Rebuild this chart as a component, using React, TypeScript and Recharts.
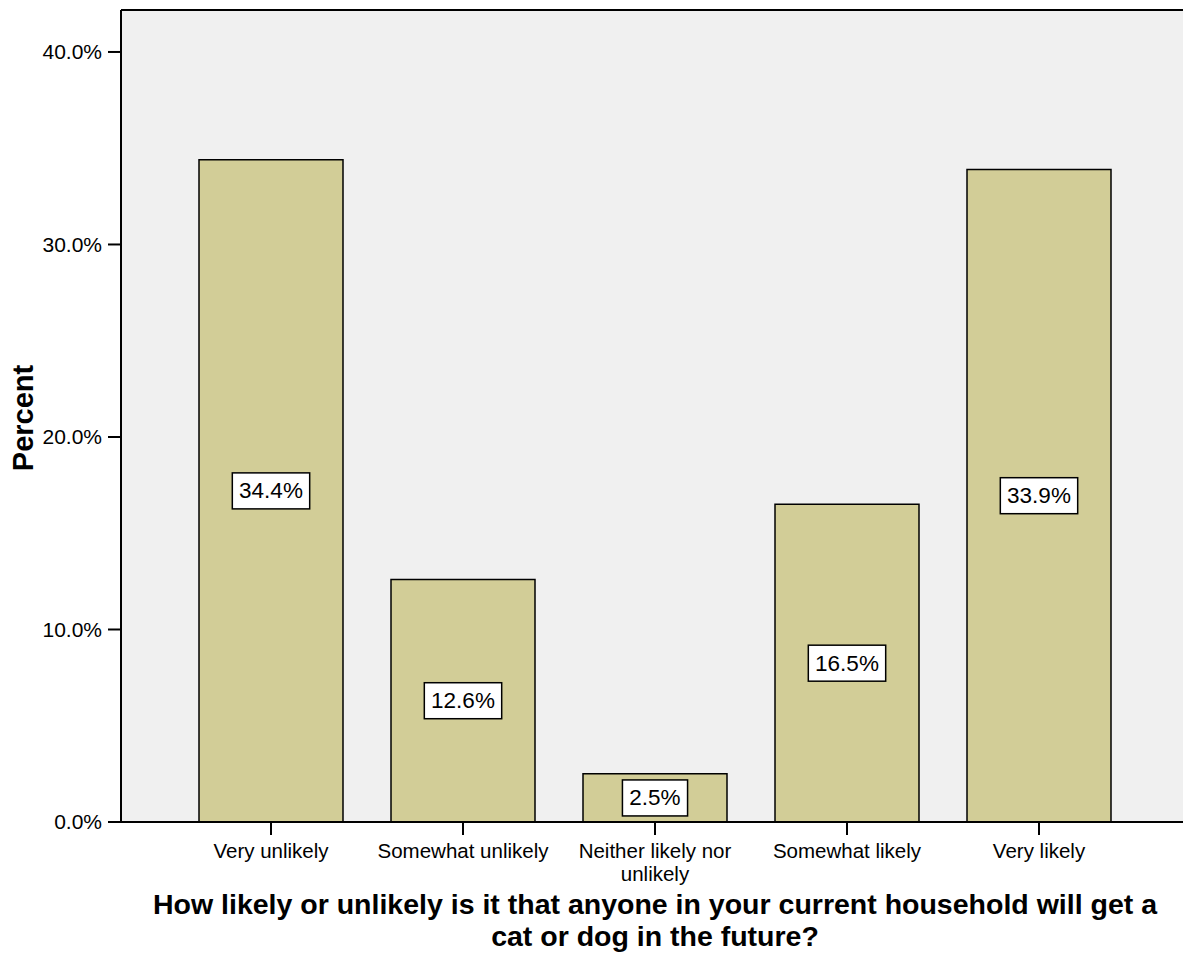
import { BarChart, Bar, XAxis, YAxis, CartesianGrid, LabelList, ReferenceLine } from "recharts";

const categories = [
  "Very unlikely",
  "Somewhat unlikely",
  "Neither likely nor unlikely",
  "Somewhat likely",
  "Very likely",
];
const tickLines = [
  ["Very unlikely"],
  ["Somewhat unlikely"],
  ["Neither likely nor", "unlikely"],
  ["Somewhat likely"],
  ["Very likely"],
];
const percents = [34.4, 12.6, 2.5, 16.5, 33.9];
const yTicks = [0, 10, 20, 30, 40];
const yMax = 42.18;
const titleLines = [
  "How likely or unlikely is it that anyone in your current household will get a",
  "cat or dog in the future?",
];

const data = categories.map((c, i) => ({ category: c, percent: percents[i] }));

const FONT = "'Liberation Sans', Arial, sans-serif";
const PAD_L = 54;
const PAD_R = 48;

// rough Arial widths so the label box fits its text
function textWidth(s: string, size: number) {
  let w = 0;
  for (const ch of s) {
    if (ch === ".") w += 0.278;
    else if (ch === "%") w += 0.889;
    else w += 0.556;
  }
  return w * size;
}

function XTick(props: any) {
  const { x, y, payload } = props;
  const lines = tickLines[payload.index] || [payload.value];
  return (
    <text x={x} y={y} textAnchor="middle" fontFamily={FONT} fontSize={20.5} fill="#000">
      {lines.map((l: string, i: number) => (
        <tspan key={i} x={x} dy={i === 0 ? "0.71em" : 23}>
          {l}
        </tspan>
      ))}
    </text>
  );
}

function ValueBox(props: any) {
  const { x, y, width, height, value } = props;
  const label = `${Number(value).toFixed(1)}%`;
  const cx = x + width / 2;
  const cy = y + height / 2;
  const w = textWidth(label, 22) + 15;
  const h = 36;
  return (
    <g>
      <rect x={cx - w / 2} y={cy - h / 2} width={w} height={h} fill="#fff" stroke="#000" strokeWidth={1.5} />
      <text x={cx} y={cy} textAnchor="middle" dominantBaseline="central" fontFamily={FONT} fontSize={22.5} fill="#000">
        {label}
      </text>
    </g>
  );
}

function TitleLabel(props: any) {
  const vb = props.viewBox || { x: 121, y: 822, width: 1062 };
  const cx = vb.x + PAD_L + (vb.width - PAD_L - PAD_R) / 2;
  return (
    <g>
      <text x={cx} y={vb.y + 92} textAnchor="middle" fontFamily={FONT} fontSize={28.5} fontWeight="bold" fill="#000">
        {titleLines[0]}
      </text>
      <text x={cx} y={vb.y + 124} textAnchor="middle" fontFamily={FONT} fontSize={28.5} fontWeight="bold" fill="#000">
        {titleLines[1]}
      </text>
    </g>
  );
}

function PercentLabel(props: any) {
  const vb = props.viewBox || { y: 10, height: 812 };
  const cy = vb.y + vb.height / 2 + 2;
  return (
    <text
      x={33}
      y={cy}
      transform={`rotate(-90, 33, ${cy})`}
      textAnchor="middle"
      fontFamily={FONT}
      fontSize={29}
      fontWeight="bold"
      fill="#000"
    >
      Percent
    </text>
  );
}

export default function App() {
  return (
    <div style={{ position: "absolute", left: 0, top: 0, width: 1183, height: 953, background: "#fff" }}>
      <BarChart
        width={1183}
        height={953}
        data={data}
        margin={{ top: 10, right: 0, bottom: 0, left: 0 }}
        barCategoryGap="12.5%"
      >
        <CartesianGrid horizontal={false} vertical={false} fill="#f0f0f0" />
        <XAxis
          dataKey="category"
          height={131}
          padding={{ left: PAD_L, right: PAD_R }}
          interval={0}
          tickSize={13}
          tickMargin={8}
          axisLine={{ stroke: "#000", strokeWidth: 2 }}
          tickLine={{ stroke: "#000", strokeWidth: 2 }}
          tick={<XTick />}
          label={{ content: TitleLabel }}
        />
        <YAxis
          width={121}
          domain={[0, yMax]}
          ticks={yTicks}
          tickSize={13}
          tickMargin={6}
          tickFormatter={(v: number) => `${v.toFixed(1)}%`}
          axisLine={{ stroke: "#000", strokeWidth: 2 }}
          tickLine={{ stroke: "#000", strokeWidth: 2 }}
          tick={{ fontFamily: FONT, fontSize: 21, fill: "#000" }}
          label={{ content: PercentLabel }}
        />
        <ReferenceLine y={yMax} stroke="#000" strokeWidth={2} />
        <Bar dataKey="percent" fill="#d2cd97" stroke="#000" strokeWidth={1.5} isAnimationActive={false}>
          <LabelList dataKey="percent" content={ValueBox} />
        </Bar>
      </BarChart>
    </div>
  );
}
